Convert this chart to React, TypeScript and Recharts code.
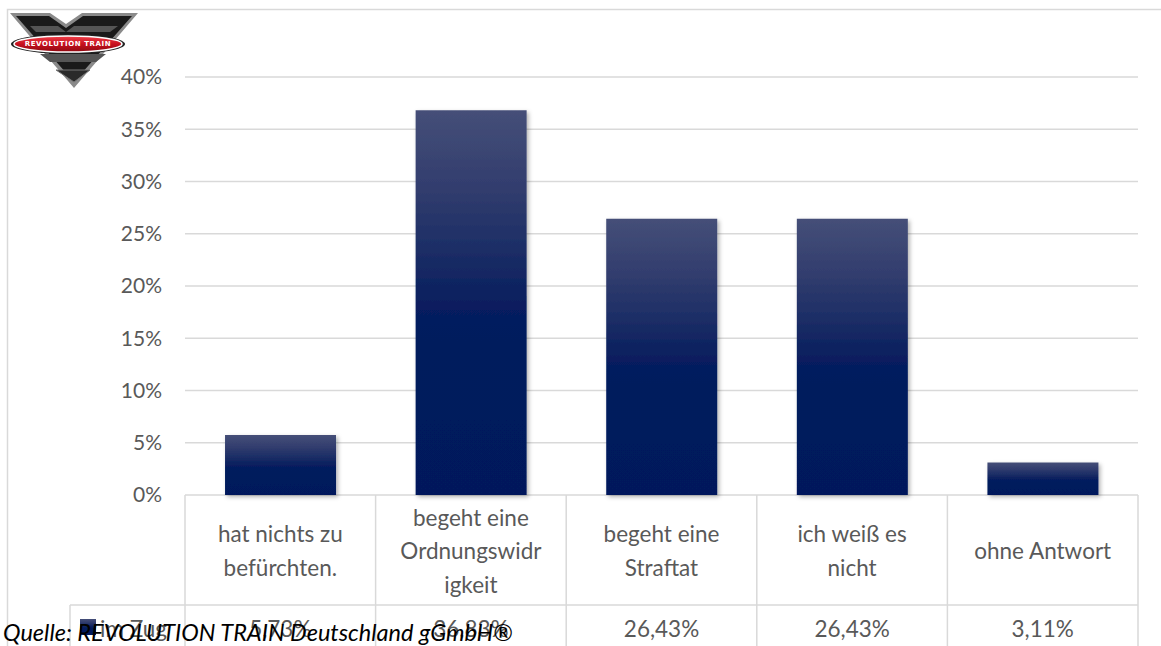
import React from "react";
import { BarChart, Bar, XAxis, YAxis, CartesianGrid } from "recharts";

const categories = [
  "hat nichts zu\nbefürchten.",
  "begeht eine\nOrdnungswidr\nigkeit",
  "begeht eine\nStraftat",
  "ich weiß es\nnicht",
  "ohne Antwort",
];
const imZug = [5.73, 36.83, 26.43, 26.43, 3.11];
const yTicks = [0, 5, 10, 15, 20, 25, 30, 35, 40];
const seriesName = "im Zug";
const source = "Quelle: REVOLUTION TRAIN Deutschland gGmbH®";

const W = 1161;
const H = 646;
const X_AXIS_H = 151;
const Y_AXIS_W = 185;
const margin = { top: 77, right: 23, bottom: 0, left: 0 };
const PLOT_W = W - Y_AXIS_W - margin.left - margin.right;
const CELL_W = PLOT_W / categories.length;
const CAT_ROW_H = 110;

const GRID = "#d9d9d9";
const TEXT = "#595959";
const FONT = "Lato, 'Open Sans', sans-serif";
const WEIGHT = 400;

const data = categories.map((c, i) => ({ name: c, value: imZug[i] }));

const fmt = (v: number) => v.toFixed(2).replace(".", ",") + "%";

const TableTick = (props: any) => {
  const { x, y, payload, index } = props;
  const left = x - CELL_W / 2;
  const right = x + CELL_W / 2;
  const bottom = H + 10;
  const lines = String(payload.value).split("\n");
  const lh = 33.5;
  const startY = y + CAT_ROW_H / 2 - ((lines.length - 1) * lh) / 2;
  return (
    <g>
      <line x1={left} x2={left} y1={y} y2={bottom} stroke={GRID} strokeWidth={1.5} />
      {index === categories.length - 1 && (
        <line x1={right} x2={right} y1={y} y2={bottom} stroke={GRID} strokeWidth={1.5} />
      )}
      <line x1={left} x2={right} y1={y + CAT_ROW_H} y2={y + CAT_ROW_H} stroke={GRID} strokeWidth={1.5} />
      <text
        x={x}
        textAnchor="middle"
        dominantBaseline="central"
        fill={TEXT}
        fontSize={22.5}
        fontWeight={WEIGHT}
        fontFamily={FONT}
      >
        {lines.map((l, i) => (
          <tspan key={i} x={x} y={startY + i * lh}>
            {l}
          </tspan>
        ))}
      </text>
      <text
        x={x}
        y={y + CAT_ROW_H + 23}
        textAnchor="middle"
        dominantBaseline="central"
        fill={TEXT}
        fontSize={22.5}
        fontWeight={WEIGHT}
        fontFamily={FONT}
      >
        {fmt(imZug[index])}
      </text>
      {index === 0 && (
        <g>
          <line x1={70} x2={left} y1={y + CAT_ROW_H} y2={y + CAT_ROW_H} stroke={GRID} strokeWidth={1.5} />
          <line x1={70} x2={70} y1={y + CAT_ROW_H} y2={bottom} stroke={GRID} strokeWidth={1.5} />
          <rect x={80} y={y + CAT_ROW_H + 14} width={16} height={16} fill="url(#barGrad)" />
          <text
            x={100}
            y={y + CAT_ROW_H + 23}
            dominantBaseline="central"
            fill={TEXT}
            fontSize={22.5}
            fontWeight={WEIGHT}
            fontFamily={FONT}
          >
            {seriesName}
          </text>
        </g>
      )}
    </g>
  );
};

const Logo = () => (
  <g>
    <defs>
      <linearGradient id="logoRed" x1="0" y1="0" x2="0" y2="1">
        <stop offset="0" stopColor="#f0414a" />
        <stop offset="0.5" stopColor="#c8101e" />
        <stop offset="1" stopColor="#8e0a12" />
      </linearGradient>
    </defs>
    <polygon points="10,13 50,13 66,24 82,13 138,13 74,88" fill="#8a8a8a" />
    <polygon points="16,16 49,16 66,28 83,16 132,16 74,82" fill="#1a1a1a" />
    <polygon points="30,26 58,26 66,32 74,26 118,26 110,32 36,32" fill="#555" />
    <polygon points="40,54 106,54 96,62 50,62" fill="#555" />
    <polygon points="56,70 90,70 74,82" fill="#2a2a2a" stroke="#777" strokeWidth={1} />
    <ellipse cx={68} cy={44} rx={57} ry={10} fill="#222" />
    <ellipse cx={68} cy={44} rx={54} ry={8} fill="url(#logoRed)" stroke="#fff" strokeWidth={1.5} />
    <text
      x={68}
      y={44}
      textAnchor="middle"
      dominantBaseline="central"
      fill="#fff"
      fontSize={7}
      fontWeight={700}
      fontFamily="'DejaVu Sans', sans-serif"
      letterSpacing={0.6}
    >
      REVOLUTION TRAIN
    </text>
  </g>
);

export default function App() {
  return (
    <div style={{ position: "absolute", left: 0, top: 0, width: W, height: H, background: "#fff", overflow: "hidden" }}>
      <svg width={W} height={H} style={{ position: "absolute", left: 0, top: 0 }}>
        <rect x={7.5} y={9.5} width={W} height={H} fill="#fff" stroke={GRID} strokeWidth={1.5} />
      </svg>
      <div style={{ position: "absolute", left: 0, top: 0 }}>
        <BarChart width={W} height={H} data={data} margin={margin} barCategoryGap="21%">
          <defs>
            <linearGradient id="barGrad" x1="0" y1="0" x2="0" y2="1">
              <stop offset="0" stopColor="#454f78" />
              <stop offset="0.2" stopColor="#323d6e" />
              <stop offset="0.4" stopColor="#172a64" />
              <stop offset="0.5" stopColor="#081f5f" />
              <stop offset="0.6" stopColor="#021b5d" />
              <stop offset="1" stopColor="#00195c" />
            </linearGradient>
            <filter id="barShadow" x="-20%" y="-20%" width="140%" height="140%">
              <feDropShadow dx={2} dy={2} stdDeviation={2} floodColor="#000" floodOpacity={0.3} />
            </filter>
          </defs>
          <CartesianGrid vertical={false} stroke={GRID} strokeWidth={1.5} />
          <YAxis
            width={Y_AXIS_W}
            domain={[0, 40]}
            ticks={yTicks}
            interval={0}
            axisLine={false}
            tickLine={false}
            tickSize={6}
            tickMargin={17}
            tickFormatter={(v: number) => `${v}%`}
            tick={{ fill: TEXT, fontSize: 21, fontWeight: WEIGHT, fontFamily: FONT }}
          />
          <XAxis
            dataKey="name"
            height={X_AXIS_H}
            interval={0}
            axisLine={false}
            tickLine={false}
            tickSize={0}
            tickMargin={0}
            tick={<TableTick />}
          />
          <Bar
            dataKey="value"
            name={seriesName}
            fill="url(#barGrad)"
            filter="url(#barShadow)"
            isAnimationActive={false}
          />
        </BarChart>
      </div>
      <svg width={W} height={H} style={{ position: "absolute", left: 0, top: 0, pointerEvents: "none" }}>
        <Logo />
        <text x={3} y={641} fill="#000" fontSize={23.5} fontStyle="italic" fontFamily={FONT}>
          {source}
        </text>
      </svg>
    </div>
  );
}
